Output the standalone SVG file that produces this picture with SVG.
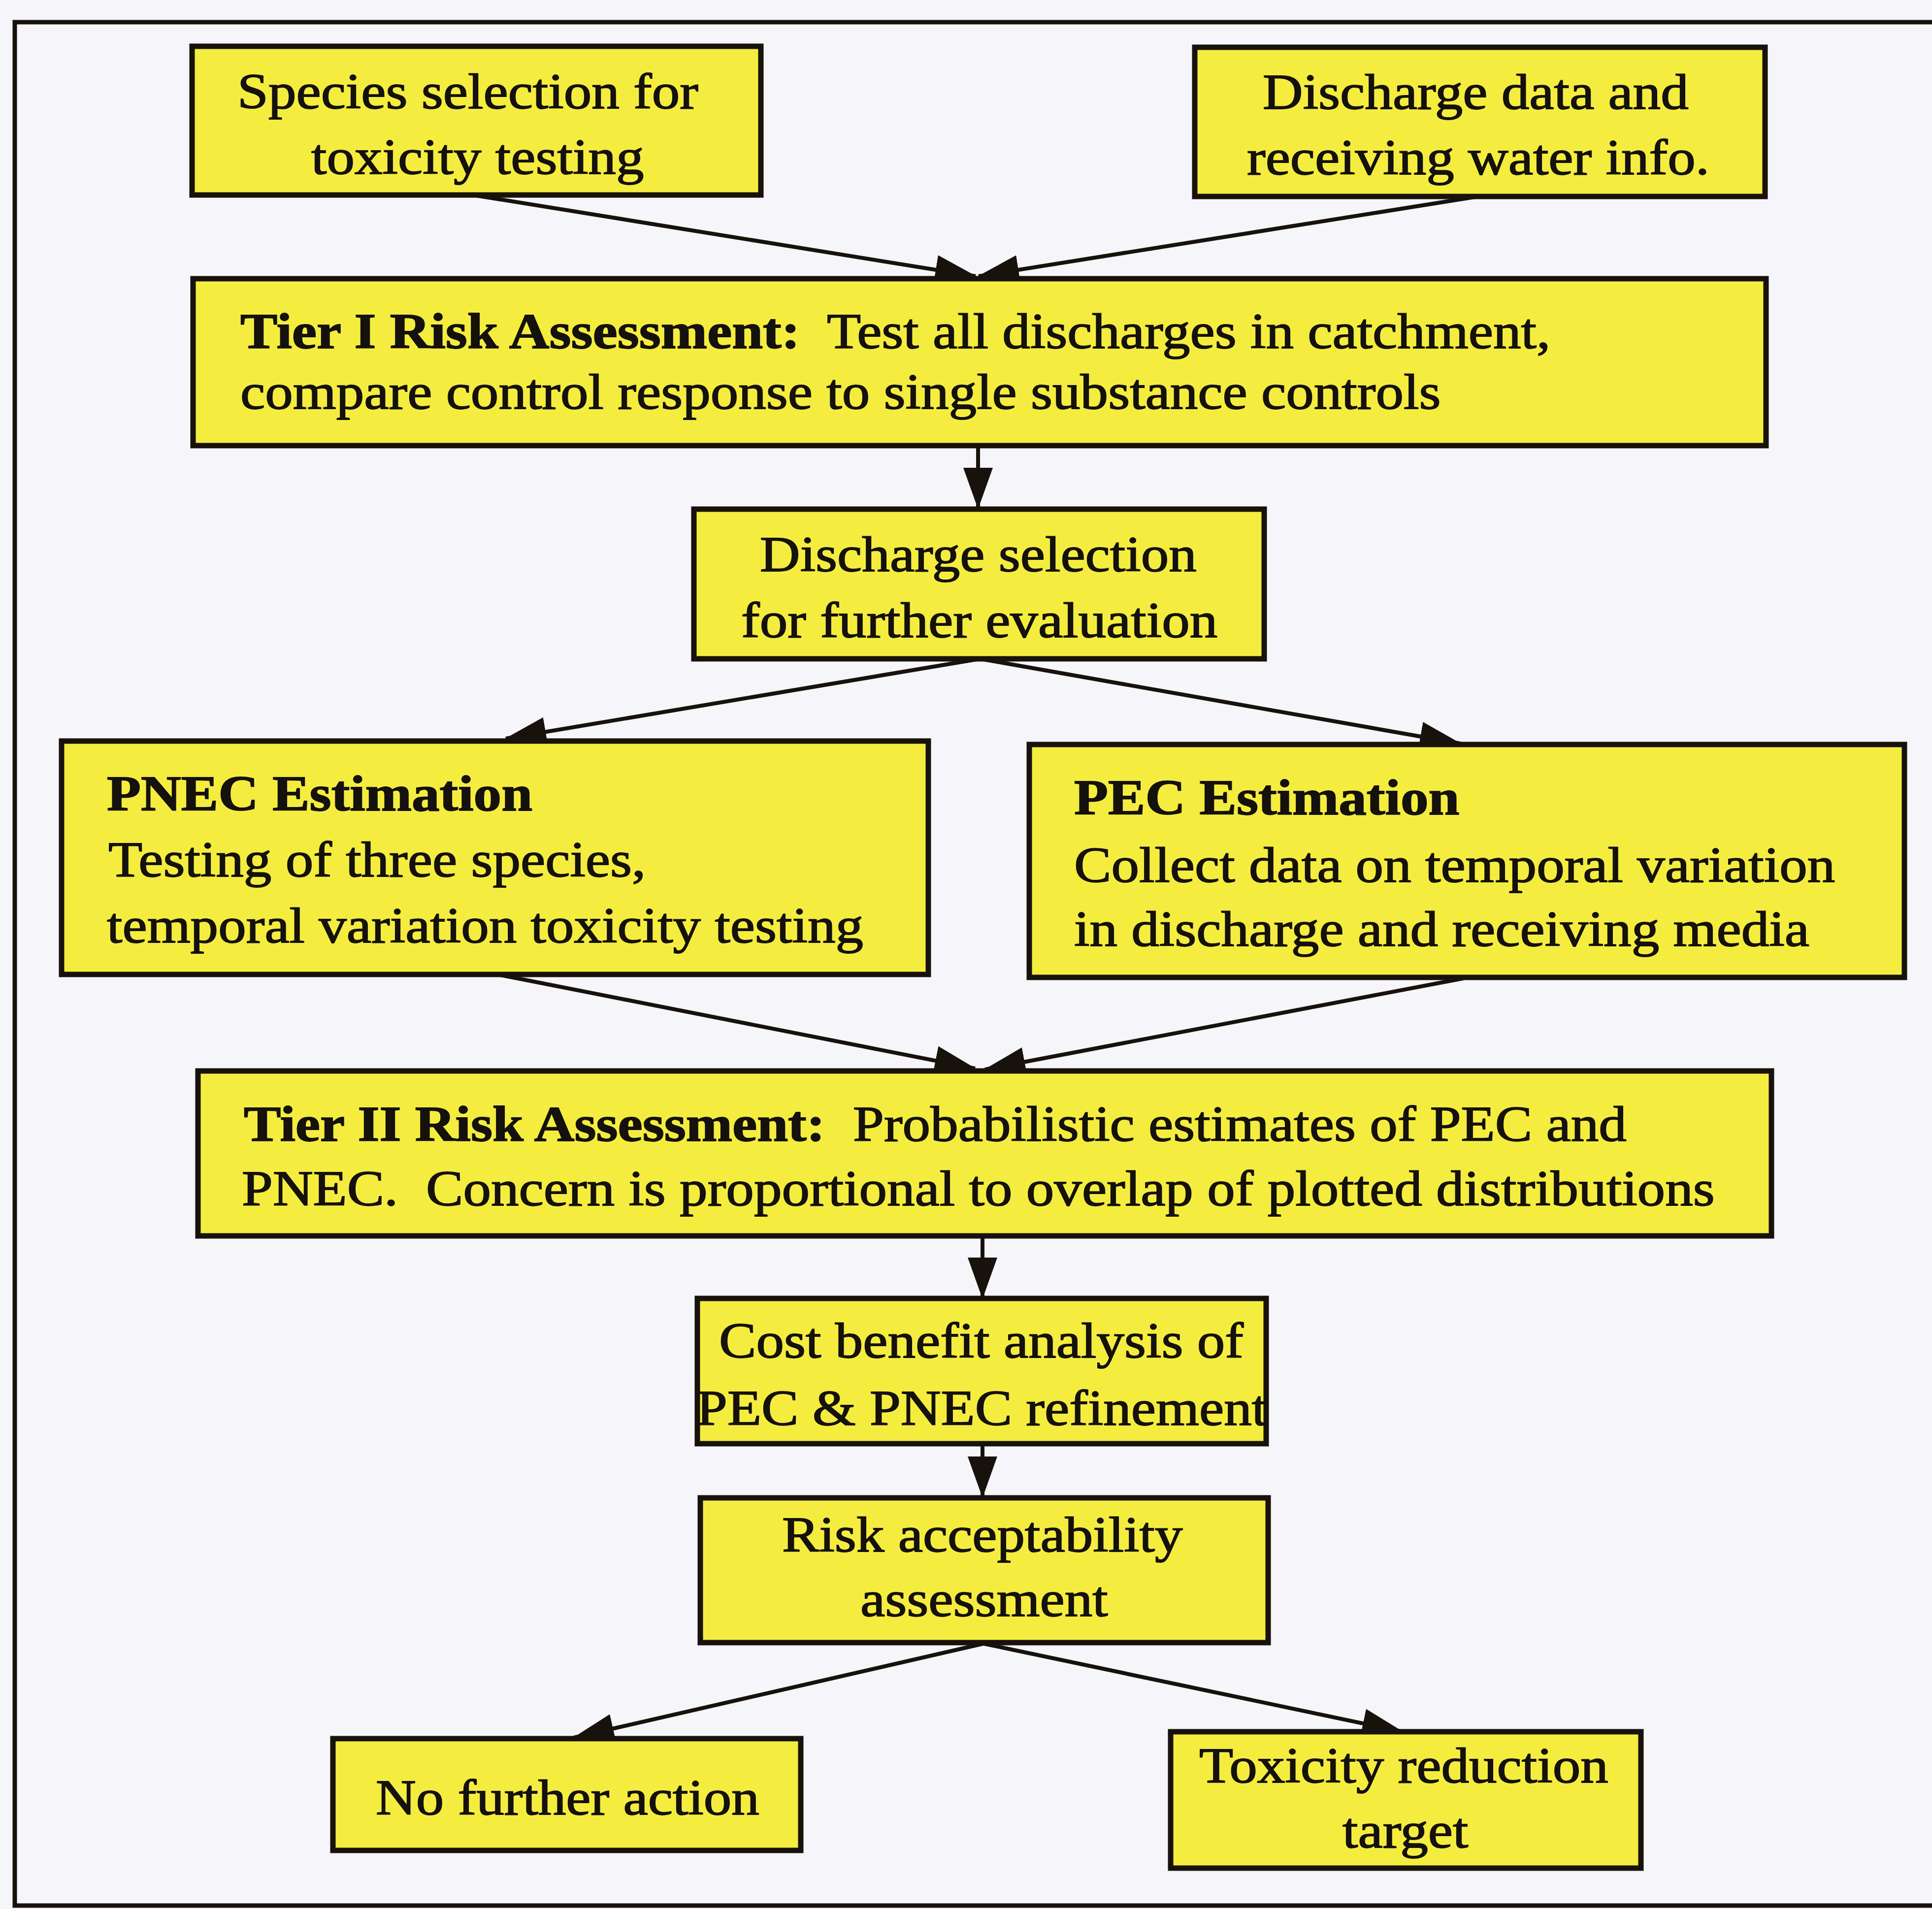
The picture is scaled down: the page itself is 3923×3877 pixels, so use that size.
<svg xmlns="http://www.w3.org/2000/svg" width="3923" height="3877" viewBox="0 0 3923 3877">
  <style>
    .box { fill: #f4ed40; stroke: #18120c; stroke-width: 11; }
    .frame { fill: none; stroke: #18120c; stroke-width: 9; }
    .conn { fill: none; stroke: #18120c; stroke-width: 8; }
    .t { font-family: "Liberation Serif", "Times New Roman", serif; font-size: 101px; fill: #15110d; stroke: #15110d; stroke-width: 1.8; }
    .b { font-weight: bold; }
  </style>
  <defs>
    <marker id="arrow" markerUnits="userSpaceOnUse" viewBox="0 0 84 60" markerWidth="84" markerHeight="60" refX="82" refY="30" orient="auto">
      <path d="M0,0 L84,30 L0,60 z" fill="#18120c"/>
    </marker>
  </defs>

  <!-- page background and surrounding frame -->
  <rect x="0" y="0" width="3923" height="3877" fill="#f5f5fa"/>
  <rect class="frame" x="30" y="45" width="3960" height="3825"/>

  <!-- connectors -->
  <g id="connectors">
    <path class="conn" d="M960,396 L1981,561" marker-end="url(#arrow)"/>
    <path class="conn" d="M2995,400 L1987,561" marker-end="url(#arrow)"/>
    <path class="conn" d="M1986,905 L1986,1032" marker-end="url(#arrow)"/>
    <path class="conn" d="M1990,1338 L1027,1500" marker-end="url(#arrow)"/>
    <path class="conn" d="M1990,1338 L2965,1510" marker-end="url(#arrow)"/>
    <path class="conn" d="M1010,1979 L1980,2170" marker-end="url(#arrow)"/>
    <path class="conn" d="M2971,1987 L2000,2172" marker-end="url(#arrow)"/>
    <path class="conn" d="M1995,2510 L1995,2636" marker-end="url(#arrow)"/>
    <path class="conn" d="M1995,2932 L1995,3040" marker-end="url(#arrow)"/>
    <path class="conn" d="M1997,3338 L1165,3529" marker-end="url(#arrow)"/>
    <path class="conn" d="M1997,3338 L2848,3517" marker-end="url(#arrow)"/>
  </g>

  <g id="species-selection">
    <rect class="box" x="390" y="94" width="1155" height="302"/>
    <text class="t" transform="translate(482 220) scale(1.12 1)">Species selection for</text>
    <text class="t" transform="translate(632 353) scale(1.12 1)">toxicity testing</text>
  </g>

  <g id="discharge-data">
    <rect class="box" x="2426" y="96" width="1158" height="303"/>
    <text class="t" transform="translate(2564 221) scale(1.12 1)">Discharge data and</text>
    <text class="t" transform="translate(2532 354) scale(1.12 1)">receiving water info.</text>
  </g>

  <g id="tier-one">
    <rect class="box" x="392" y="566" width="3194" height="339"/>
    <text class="t" xml:space="preserve" transform="translate(488 707) scale(1.12 1)"><tspan class="b">Tier I Risk Assessment:</tspan>  Test all discharges in catchment,</text>
    <text class="t" transform="translate(488 830) scale(1.12 1)">compare control response to single substance controls</text>
  </g>

  <g id="discharge-selection">
    <rect class="box" x="1409" y="1034" width="1158" height="304"/>
    <text class="t" transform="translate(1543 1160) scale(1.12 1)">Discharge selection</text>
    <text class="t" transform="translate(1505 1294) scale(1.12 1)">for further evaluation</text>
  </g>

  <g id="pnec-estimation">
    <rect class="box" x="125" y="1505" width="1760" height="474"/>
    <text class="t b" transform="translate(217 1646) scale(1.12 1)">PNEC Estimation</text>
    <text class="t" transform="translate(220 1780) scale(1.12 1)">Testing of three species,</text>
    <text class="t" transform="translate(217 1914) scale(1.12 1)">temporal variation toxicity testing</text>
  </g>

  <g id="pec-estimation">
    <rect class="box" x="2090" y="1512" width="1777" height="473"/>
    <text class="t b" transform="translate(2181 1654) scale(1.12 1)">PEC Estimation</text>
    <text class="t" transform="translate(2181 1791) scale(1.12 1)">Collect data on temporal variation</text>
    <text class="t" transform="translate(2181 1921) scale(1.12 1)">in discharge and receiving media</text>
  </g>

  <g id="tier-two">
    <rect class="box" x="402" y="2175" width="3195" height="335"/>
    <text class="t" xml:space="preserve" transform="translate(495 2317) scale(1.12 1)"><tspan class="b">Tier II Risk Assessment:</tspan>  Probabilistic estimates of PEC and</text>
    <text class="t" xml:space="preserve" transform="translate(491 2448) scale(1.12 1)">PNEC.  Concern is proportional to overlap of plotted distributions</text>
  </g>

  <g id="cost-benefit">
    <rect class="box" x="1416" y="2637" width="1155" height="295"/>
    <text class="t" transform="translate(1460 2757) scale(1.12 1)">Cost benefit analysis of</text>
    <text class="t" transform="translate(1414 2894) scale(1.12 1)">PEC &amp; PNEC refinement</text>
  </g>

  <g id="risk-acceptability">
    <rect class="box" x="1422" y="3042" width="1153" height="294"/>
    <text class="t" transform="translate(1588 3151) scale(1.12 1)">Risk acceptability</text>
    <text class="t" transform="translate(1747 3282) scale(1.12 1)">assessment</text>
  </g>

  <g id="no-further-action">
    <rect class="box" x="676" y="3531" width="950" height="227"/>
    <text class="t" transform="translate(763 3685) scale(1.12 1)">No further action</text>
  </g>

  <g id="toxicity-reduction">
    <rect class="box" x="2377" y="3517" width="955" height="277"/>
    <text class="t" transform="translate(2435 3620) scale(1.12 1)">Toxicity reduction</text>
    <text class="t" transform="translate(2726 3752) scale(1.12 1)">target</text>
  </g>
</svg>
